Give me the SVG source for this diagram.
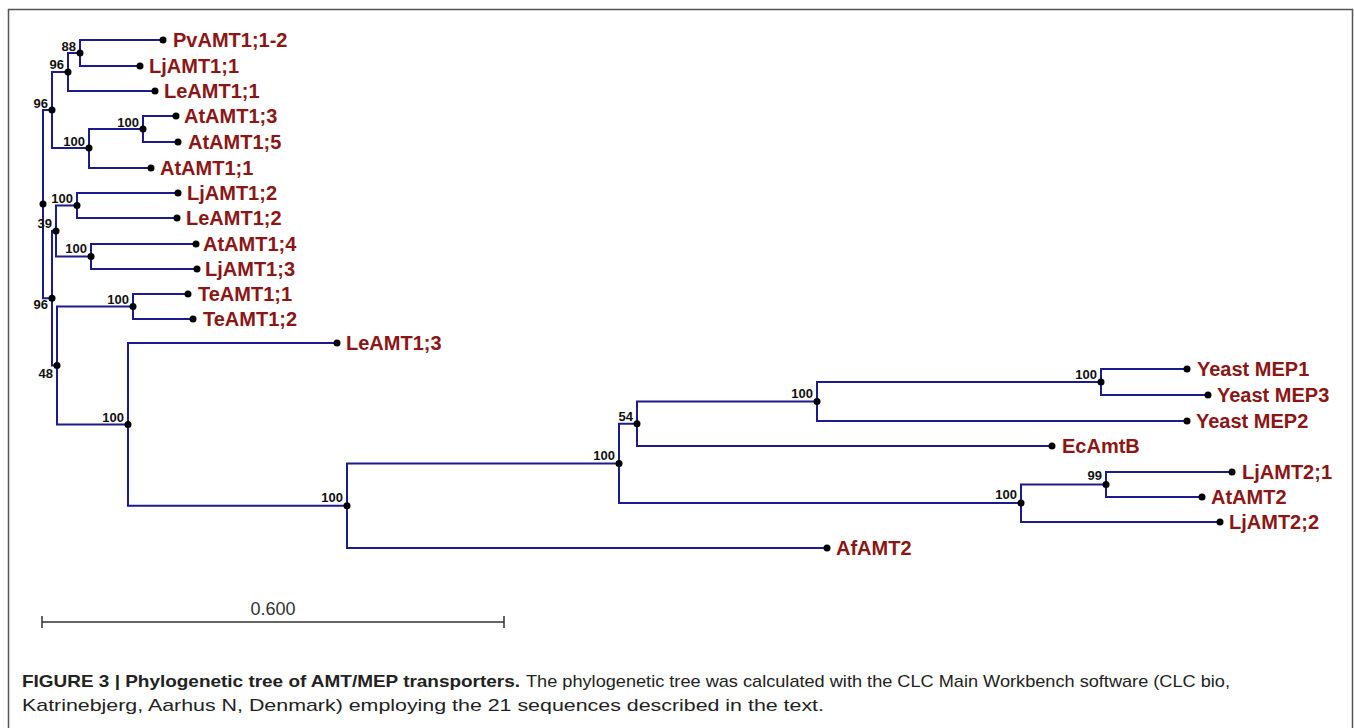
<svg xmlns="http://www.w3.org/2000/svg" width="1354" height="728" viewBox="0 0 1354 728">
<style>
.br{fill:none;stroke:#1c1a8c;stroke-width:2}
.dot{fill:#000}
.leaf{font-family:"Liberation Sans",Arial,sans-serif;font-weight:bold;font-size:20px;fill:#8a1616}
.bs{font-family:"Liberation Sans",Arial,sans-serif;font-weight:bold;font-size:13px;fill:#111;text-anchor:end}
.cap{font-family:"Liberation Sans",Arial,sans-serif;font-size:17px;fill:#222}
</style>
<rect width="1354" height="728" fill="#fff"/>
<path d="M8.5,728 V9.5 H1352.5 V728" fill="none" stroke="#555" stroke-width="1.5"/>
<g id="connectors" class="br">
<path d="M163,40 H80 V66 H140"/>
<path d="M80,53 H68 V91 H155"/>
<path d="M176,116 H143 V142 H178"/>
<path d="M143,129 H89 V168 H151"/>
<path d="M68,72 H52 V148 H89"/>
<path d="M178,193 H77 V218 H177"/>
<path d="M196,244 H91 V269 H197"/>
<path d="M77,205.5 H56 V256.5 H91"/>
<path d="M188,294 H133 V319 H193"/>
<path d="M1187,369 H1101 V395 H1208"/>
<path d="M1101,382 H817 V421 H1187"/>
<path d="M817,401.5 H637 V446 H1052"/>
<path d="M1232,472 H1106 V497 H1202"/>
<path d="M1106,484.5 H1021 V522 H1220"/>
<path d="M637,423.7 H619 V503 H1021"/>
<path d="M619,463.4 H347 V548 H827"/>
<path d="M337,343 H128 V505.7 H347"/>
<path d="M133,306.5 H57 V424.4 H128"/>
<path d="M56,231 H52 V365.4 H57"/>
<path d="M52,110 H43 V298.2 H52"/>
</g>
<g id="internal-nodes">
<g id="n88"><circle class="dot" cx="80" cy="53" r="3.5"/><text class="bs" x="76" y="51">88</text></g>
<g id="n96a"><circle class="dot" cx="68" cy="72" r="3.5"/><text class="bs" x="64" y="69">96</text></g>
<g id="n96b"><circle class="dot" cx="52" cy="110" r="3.5"/><text class="bs" x="48" y="108">96</text></g>
<g id="n100a"><circle class="dot" cx="143" cy="129" r="3.5"/><text class="bs" x="139" y="127">100</text></g>
<g id="n100b"><circle class="dot" cx="89" cy="148" r="3.5"/><text class="bs" x="85" y="146">100</text></g>
<g id="n100c"><circle class="dot" cx="77" cy="205.5" r="3.5"/><text class="bs" x="73" y="203">100</text></g>
<g id="n100d"><circle class="dot" cx="91" cy="256.5" r="3.5"/><text class="bs" x="87" y="253">100</text></g>
<g id="n39"><circle class="dot" cx="56" cy="231" r="3.5"/><text class="bs" x="52" y="228">39</text></g>
<g id="n100e"><circle class="dot" cx="133" cy="306.5" r="3.5"/><text class="bs" x="129" y="304">100</text></g>
<g id="n96c"><circle class="dot" cx="52" cy="298.2" r="3.5"/><text class="bs" x="48" y="309">96</text></g>
<g id="n48"><circle class="dot" cx="57" cy="365.4" r="3.5"/><text class="bs" x="53" y="378">48</text></g>
<g id="root"><circle class="dot" cx="43" cy="204" r="3.5"/></g>
<g id="n100z"><circle class="dot" cx="128" cy="424.4" r="3.5"/><text class="bs" x="124" y="422">100</text></g>
<g id="n100k"><circle class="dot" cx="347" cy="505.7" r="3.5"/><text class="bs" x="343" y="502">100</text></g>
<g id="n100j"><circle class="dot" cx="619" cy="463.4" r="3.5"/><text class="bs" x="615" y="460">100</text></g>
<g id="n54"><circle class="dot" cx="637" cy="423.7" r="3.5"/><text class="bs" x="633" y="421">54</text></g>
<g id="n100h"><circle class="dot" cx="817" cy="401.5" r="3.5"/><text class="bs" x="813" y="398">100</text></g>
<g id="n100g"><circle class="dot" cx="1101" cy="382" r="3.5"/><text class="bs" x="1097" y="379">100</text></g>
<g id="n100i"><circle class="dot" cx="1021" cy="503" r="3.5"/><text class="bs" x="1017" y="499">100</text></g>
<g id="n99"><circle class="dot" cx="1106" cy="484.5" r="3.5"/><text class="bs" x="1102" y="480">99</text></g>
</g>
<g id="leaves">
<g id="PvAMT1_1-2"><circle class="dot" cx="163" cy="40" r="3.5"/><text class="leaf" x="173" y="47">PvAMT1;1-2</text></g>
<g id="LjAMT1_1"><circle class="dot" cx="140" cy="66" r="3.5"/><text class="leaf" x="149" y="73">LjAMT1;1</text></g>
<g id="LeAMT1_1"><circle class="dot" cx="155" cy="91" r="3.5"/><text class="leaf" x="164" y="98">LeAMT1;1</text></g>
<g id="AtAMT1_3"><circle class="dot" cx="176" cy="116" r="3.5"/><text class="leaf" x="184" y="123">AtAMT1;3</text></g>
<g id="AtAMT1_5"><circle class="dot" cx="178" cy="142" r="3.5"/><text class="leaf" x="188" y="149">AtAMT1;5</text></g>
<g id="AtAMT1_1"><circle class="dot" cx="151" cy="168" r="3.5"/><text class="leaf" x="160" y="175">AtAMT1;1</text></g>
<g id="LjAMT1_2"><circle class="dot" cx="178" cy="193" r="3.5"/><text class="leaf" x="187" y="200">LjAMT1;2</text></g>
<g id="LeAMT1_2"><circle class="dot" cx="177" cy="218" r="3.5"/><text class="leaf" x="186" y="225">LeAMT1;2</text></g>
<g id="AtAMT1_4"><circle class="dot" cx="196" cy="244" r="3.5"/><text class="leaf" x="203" y="251">AtAMT1;4</text></g>
<g id="LjAMT1_3"><circle class="dot" cx="197" cy="269" r="3.5"/><text class="leaf" x="205" y="276">LjAMT1;3</text></g>
<g id="TeAMT1_1"><circle class="dot" cx="188" cy="294" r="3.5"/><text class="leaf" x="198" y="301">TeAMT1;1</text></g>
<g id="TeAMT1_2"><circle class="dot" cx="193" cy="319" r="3.5"/><text class="leaf" x="203" y="326">TeAMT1;2</text></g>
<g id="LeAMT1_3"><circle class="dot" cx="337" cy="343" r="3.5"/><text class="leaf" x="346" y="350">LeAMT1;3</text></g>
<g id="YeastMEP1"><circle class="dot" cx="1187" cy="369" r="3.5"/><text class="leaf" x="1197" y="376">Yeast MEP1</text></g>
<g id="YeastMEP3"><circle class="dot" cx="1208" cy="395" r="3.5"/><text class="leaf" x="1217" y="402">Yeast MEP3</text></g>
<g id="YeastMEP2"><circle class="dot" cx="1187" cy="421" r="3.5"/><text class="leaf" x="1196" y="428">Yeast MEP2</text></g>
<g id="EcAmtB"><circle class="dot" cx="1052" cy="446" r="3.5"/><text class="leaf" x="1062" y="453">EcAmtB</text></g>
<g id="LjAMT2_1"><circle class="dot" cx="1232" cy="472" r="3.5"/><text class="leaf" x="1242" y="479">LjAMT2;1</text></g>
<g id="AtAMT2"><circle class="dot" cx="1202" cy="497" r="3.5"/><text class="leaf" x="1211" y="504">AtAMT2</text></g>
<g id="LjAMT2_2"><circle class="dot" cx="1220" cy="522" r="3.5"/><text class="leaf" x="1229" y="529">LjAMT2;2</text></g>
<g id="AfAMT2"><circle class="dot" cx="827" cy="548" r="3.5"/><text class="leaf" x="836" y="555">AfAMT2</text></g>
</g>
<g id="scale-bar">
<path d="M42,622 H504 M42,616 V628 M504,616 V628" fill="none" stroke="#333" stroke-width="1.5"/>
<text x="273" y="615" text-anchor="middle" font-family="Liberation Sans,Arial,sans-serif" font-size="18" fill="#333">0.600</text>
</g>
<g id="caption">
<text class="cap" y="687"><tspan x="22" font-weight="bold" textLength="498" lengthAdjust="spacingAndGlyphs">FIGURE 3 | Phylogenetic tree of AMT/MEP transporters.</tspan><tspan x="526" textLength="704" lengthAdjust="spacingAndGlyphs">The phylogenetic tree was calculated with the CLC Main Workbench software (CLC bio,</tspan></text>
<text class="cap" y="711"><tspan x="22" textLength="802" lengthAdjust="spacingAndGlyphs">Katrinebjerg, Aarhus N, Denmark) employing the 21 sequences described in the text.</tspan></text>
</g>
</svg>
